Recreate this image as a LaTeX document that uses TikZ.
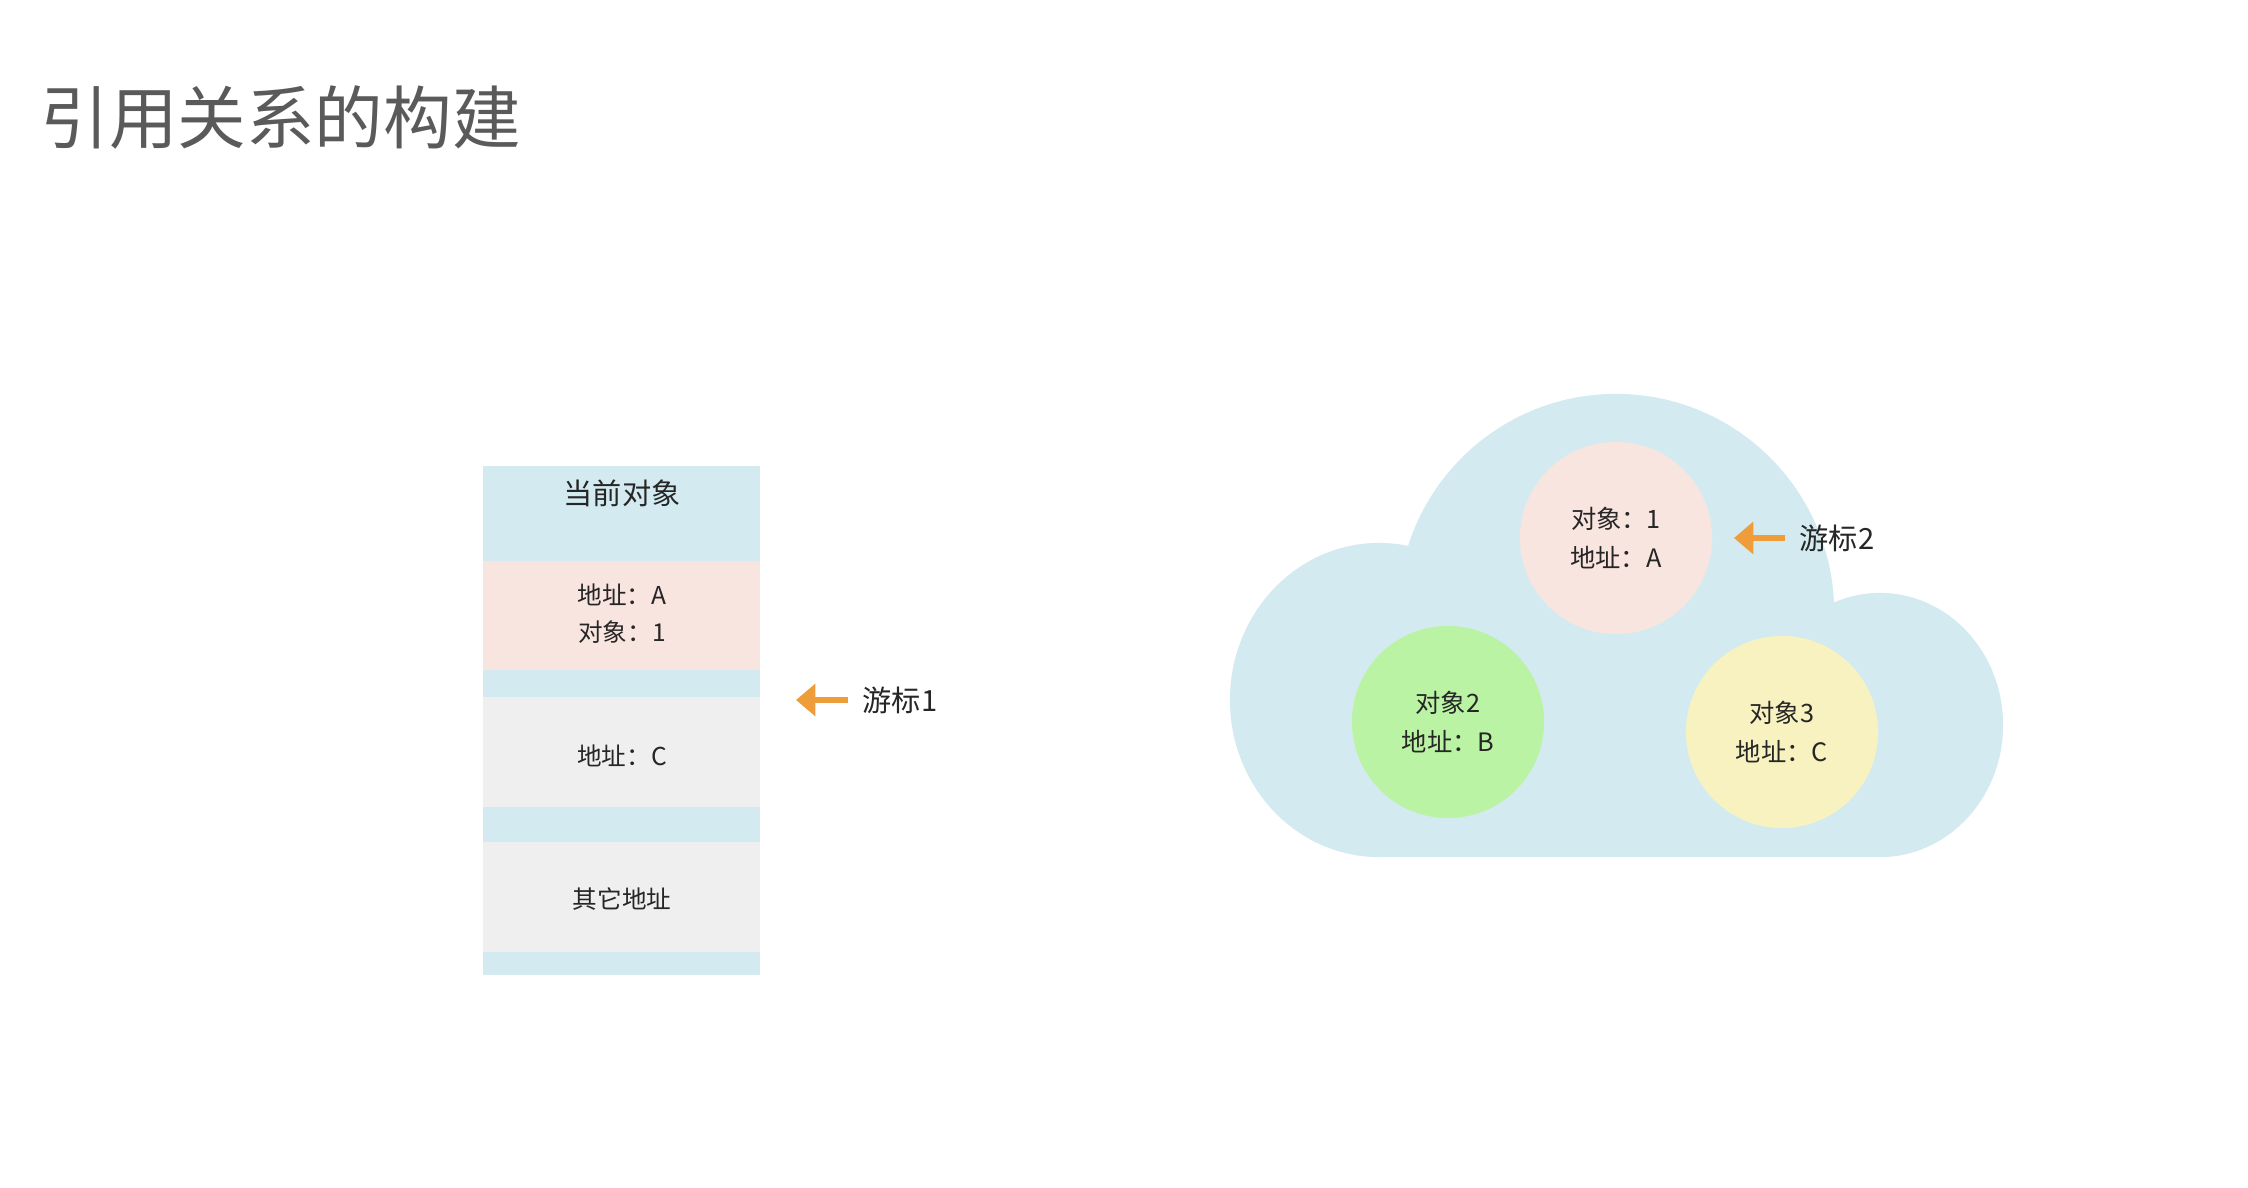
\documentclass[tikz,border=0pt]{standalone}
\usepackage{fontspec}
\newfontfamily\cjk{Noto Sans CJK SC}
\usepackage{tikz}
\usetikzlibrary{arrows.meta}
\usetikzlibrary{positioning}

\definecolor{bandblue}{HTML}{D3EBF0}
\definecolor{bandpink}{HTML}{F9E5DF}
\definecolor{bandgray}{HTML}{EFEFEF}
\definecolor{objgreen}{HTML}{BAF3A3}
\definecolor{objyellow}{HTML}{F8F2C1}
\definecolor{ptrorange}{HTML}{EE9D3A}
\definecolor{titlegray}{HTML}{5A5A5A}

\tikzset{
  txt/.style={font=\cjk\fontsize{7}{10.5}\selectfont, text=black!85, align=center, inner sep=0pt},
  obj/.style={circle, minimum size=1.92cm, inner sep=0pt, align=center,
              font=\cjk\fontsize{7.2}{11}\selectfont, text=black!85},
  cur/.style={font=\cjk\fontsize{8.3}{9}\selectfont, text=black!85, inner sep=0pt, anchor=west},
  ptr/.style={ptrorange, line width=1.5pt, -{Triangle[length=5.5pt,width=9pt]}},
}

\begin{document}
\begin{tikzpicture}[x=0.01cm, y=-0.01cm]
            \useasboundingbox (0,0) rectangle (2248,1188);
            \fill[white] (0,0) rectangle (2248,1188);

            \draw (40,117) node[anchor=west, inner sep=0pt, text=titlegray,
                  font=\cjk\fontsize{19.5}{21}\selectfont] (title) {引用关系的构建};

            % stack of the current object
            \fill[bandblue] (483,466) rectangle (760,975);
            \fill[bandpink] (483,561) rectangle (760,670);
            \fill[bandgray] (483,697) rectangle (760,807);
            \fill[bandgray] (483,842) rectangle (760,952);
            \draw (622,493) node[txt, font=\cjk\fontsize{8.3}{9}\selectfont] (head) {当前对象};
            \draw (622,614) node[txt] (slota) {地址：A\\对象：1};
            \draw (622,756) node[txt] (slotc) {地址：C};
            \draw (622,899) node[txt] (other) {其它地址};

            \draw (862,700) node[cur] (cur1) {游标1};
            \coordinate (tip1) at (796,700);
            \draw[ptr] ([xshift=-4pt]cur1.west) -- (tip1);

            % cloud of objects
            \begin{scope}
              \clip (1200,350) rectangle (2050,857);
              \fill[bandblue] (1379,700) ellipse [x radius=1.49cm, y radius=1.57cm];
              \fill[bandblue] (1616,612) circle [radius=2.18cm];
              \fill[bandblue] (1880,725) ellipse [x radius=1.23cm, y radius=1.32cm];
              \fill[bandblue] (1379,640) rectangle (1880,857);
            \end{scope}

            \draw (1616,538) node[obj, fill=bandpink] (obj1) {对象：1\\地址：A};
            \draw (1448,722) node[obj, fill=objgreen] (obj2) {对象2\\地址：B};
            \draw (1782,732) node[obj, fill=objyellow] (obj3) {对象3\\地址：C};

            \draw (1799,538) node[cur] (cur2) {游标2};
            \coordinate (tip2) at (1734,538);
            \draw[ptr] ([xshift=-4pt]cur2.west) -- (tip2);

            \end{tikzpicture}
\end{document}
